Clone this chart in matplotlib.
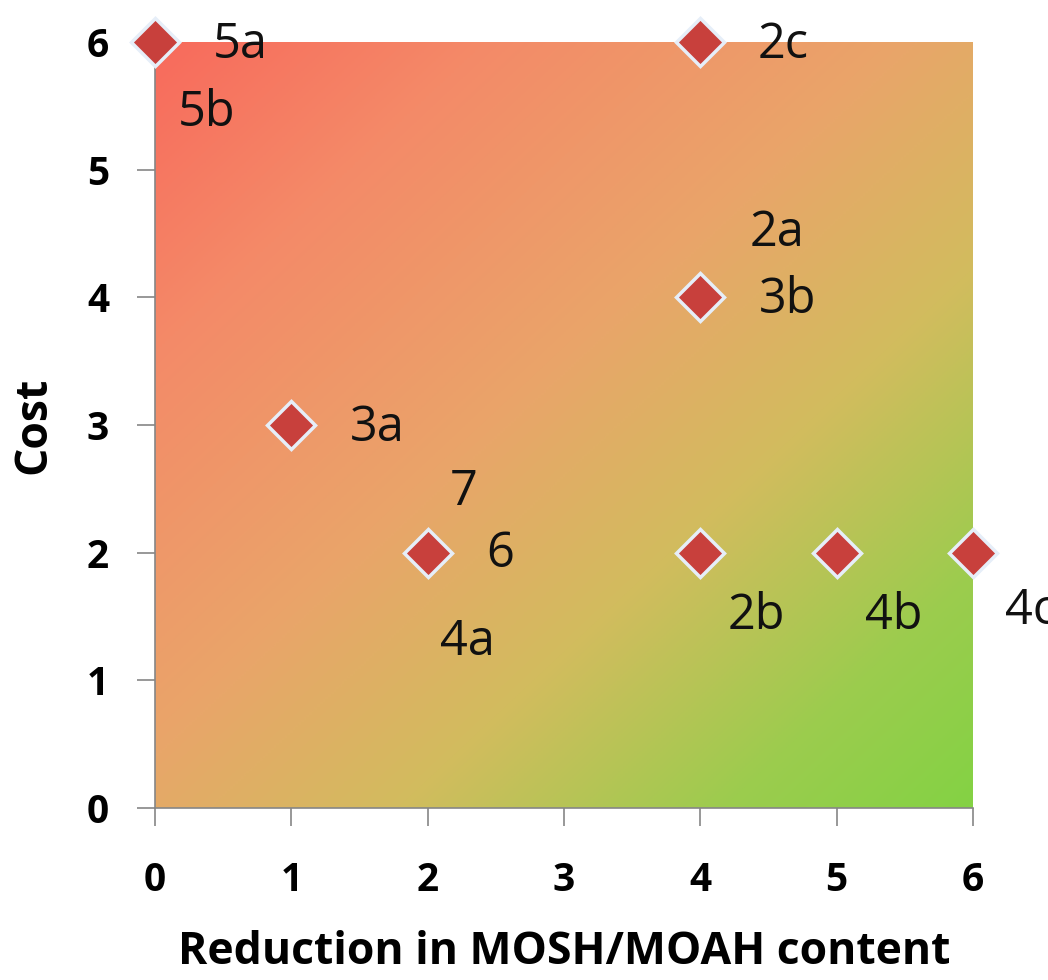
import numpy as np
import matplotlib.pyplot as plt
from matplotlib.colors import LinearSegmentedColormap

plt.rcParams['font.family'] = ['Open Sans', 'DejaVu Sans']

# data
reduction = [0, 4, 4, 1, 2, 4, 5, 6]
cost = [6, 6, 4, 3, 2, 2, 2, 2]

# labels (text, x, y, offset in px)
label_text = ["5a", "5b", "2c", "2a", "3b", "3a", "7", "6", "4a", "2b", "4b", "4c"]
label_x = [0, 0, 4, 4, 4, 1, 2, 2, 2, 4, 5, 6]
label_y = [6, 6, 6, 4, 4, 3, 2, 2, 2, 2, 2, 2]
label_dx = [58, 23, 57, 49, 59, 59, 22, 59, 12, 27, 28, 32]
label_dy = [-3, -71, -3, 64, -3, -3, 60, -2, -90, -64, -64, -59]

ticks = [0, 1, 2, 3, 4, 5, 6]

fig = plt.figure(figsize=(10.48, 9.8), dpi=100)
ax = fig.add_axes([155 / 1048, 172 / 980, 818 / 1048, 766 / 980])

# diagonal gradient background
cmap = LinearSegmentedColormap.from_list(
    "bg", [(0.0, "#f86a5c"), (0.2, "#f48a68"), (0.45, "#eaa46a"),
           (0.65, "#d2bc5e"), (0.85, "#9ccc4e"), (1.0, "#84d244")])
gx, gy = np.meshgrid(np.linspace(0, 1, 300), np.linspace(0, 1, 300))
t = (gx + gy) / 2
ax.imshow(t, cmap=cmap, extent=[0, 6, 0, 6], origin="upper", aspect="auto",
          zorder=0, interpolation="bilinear")

ax.plot(reduction, cost, linestyle="none", marker="D", ms=24,
        mfc="#c8403c", mec="#e6eef8", mew=2.5, clip_on=False, zorder=3)

px = 72 / 100
for s, x, y, dx, dy in zip(label_text, label_x, label_y, label_dx, label_dy):
    ax.annotate(s, (x, y), xytext=(dx * px, dy * px), textcoords="offset points",
                ha="left", va="center", fontsize=35, color="#111111",
                annotation_clip=False, zorder=4)

ax.set_xlim(0, 6)
ax.set_ylim(0, 6)
ax.set_xticks(ticks)
ax.set_yticks(ticks)
ax.set_xticklabels([str(v) for v in ticks])
ax.set_yticklabels([str(v) for v in ticks])
ax.tick_params(axis="both", direction="out", length=13, width=1.2, color="#868686",
               labelsize=28)
ax.tick_params(axis="x", pad=25)
ax.tick_params(axis="y", pad=20)
for lab in ax.get_xticklabels() + ax.get_yticklabels():
    lab.set_fontweight("bold")

for side in ["top", "right"]:
    ax.spines[side].set_visible(False)
for side in ["left", "bottom"]:
    ax.spines[side].set_color("#868686")
    ax.spines[side].set_linewidth(1.2)

ax.set_xlabel("Reduction in MOSH/MOAH content", fontsize=32, fontweight="bold", labelpad=22)
ax.set_ylabel("Cost", fontsize=32, fontweight="bold", labelpad=22)

fig.savefig("out.png", dpi=100)
